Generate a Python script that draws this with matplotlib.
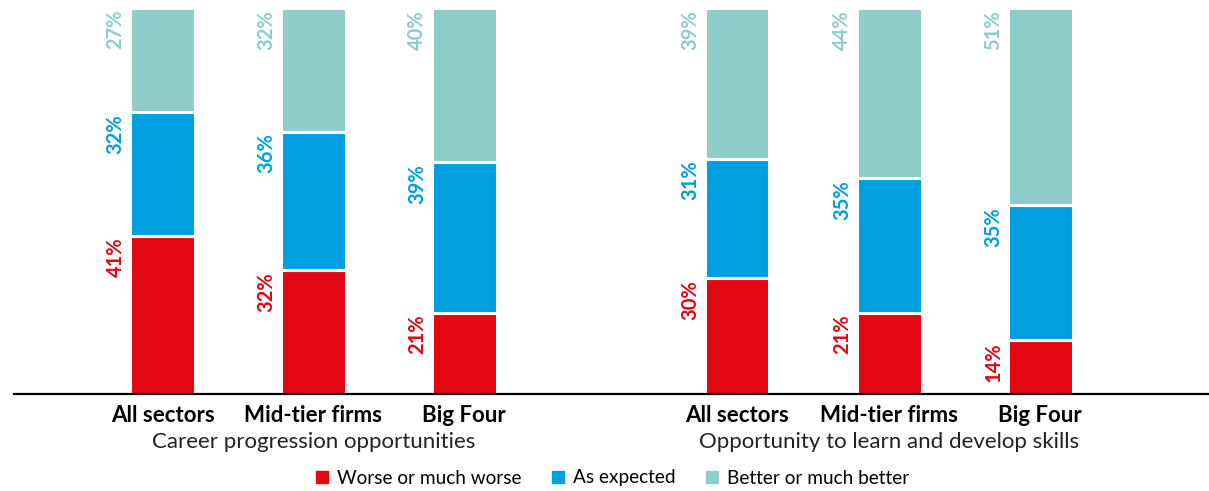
import matplotlib
matplotlib.use("Agg")
import matplotlib.pyplot as plt
from matplotlib.patches import Patch
import numpy as np

# ---------------------------------------------------------
# Data
# ---------------------------------------------------------
categories = ["All sectors", "Mid-tier firms", "Big Four"]
groups = ["Career progression opportunities", "Opportunity to learn and develop skills"]
series = ["Worse or much worse", "As expected", "Better or much better"]

worse = [41, 32, 21, 30, 21, 14]
expected = [32, 36, 39, 31, 35, 35]
better = [27, 32, 40, 39, 44, 51]

colors = ["#E30613", "#009FDF", "#8ECDCA"]

plt.rcParams["font.family"] = ["Lato", "DejaVu Sans"]

# ---------------------------------------------------------
# Layout
# ---------------------------------------------------------
fig = plt.figure(figsize=(12.09, 4.91), dpi=100)
ax = fig.add_axes([14 / 1209, 97 / 491, 1 - 14 / 1209, 386 / 491])

x = np.array([0, 1, 2, 3.81, 4.82, 5.82])
width = 0.43

bottom = np.zeros(len(x))
for vals, col in zip([worse, expected, better], colors):
    vals = np.array(vals)
    ax.bar(x, vals, width, bottom=bottom, color=col,
           edgecolor="white", linewidth=2.2)
    for xi, b, v in zip(x, bottom, vals):
        ax.text(xi - width / 2 - 0.03, b + v - 0.5, f"{v}%", rotation=90,
                ha="right", va="top", color=col, fontsize=14.5,
                fontweight="bold")
    bottom += vals

ax.set_xlim(-0.985, 6.94)
ax.set_ylim(0, 100)

for s in ["top", "right", "left"]:
    ax.spines[s].set_visible(False)
ax.spines["bottom"].set_linewidth(1.6)
ax.set_yticks([])
ax.set_xticks(x)
ax.set_xticklabels(categories * 2, fontsize=16, fontweight="bold")
ax.tick_params(axis="x", length=0, pad=8)

for gx, g in zip([x[1], x[4]], groups):
    ax.text(gx, -0.125, g, transform=ax.get_xaxis_transform(),
            ha="center", va="center", fontsize=16, color="#222222")

handles = [Patch(color=c, label=l) for c, l in zip(colors, series)]
fig.legend(handles=handles, loc="center", bbox_to_anchor=(613 / 1209, 1 - 478 / 491),
           ncol=3, frameon=False, fontsize=13.7, handlelength=0.6,
           handleheight=0.6, handletextpad=0.5, columnspacing=1.6)

fig.savefig("out.png", dpi=100)
